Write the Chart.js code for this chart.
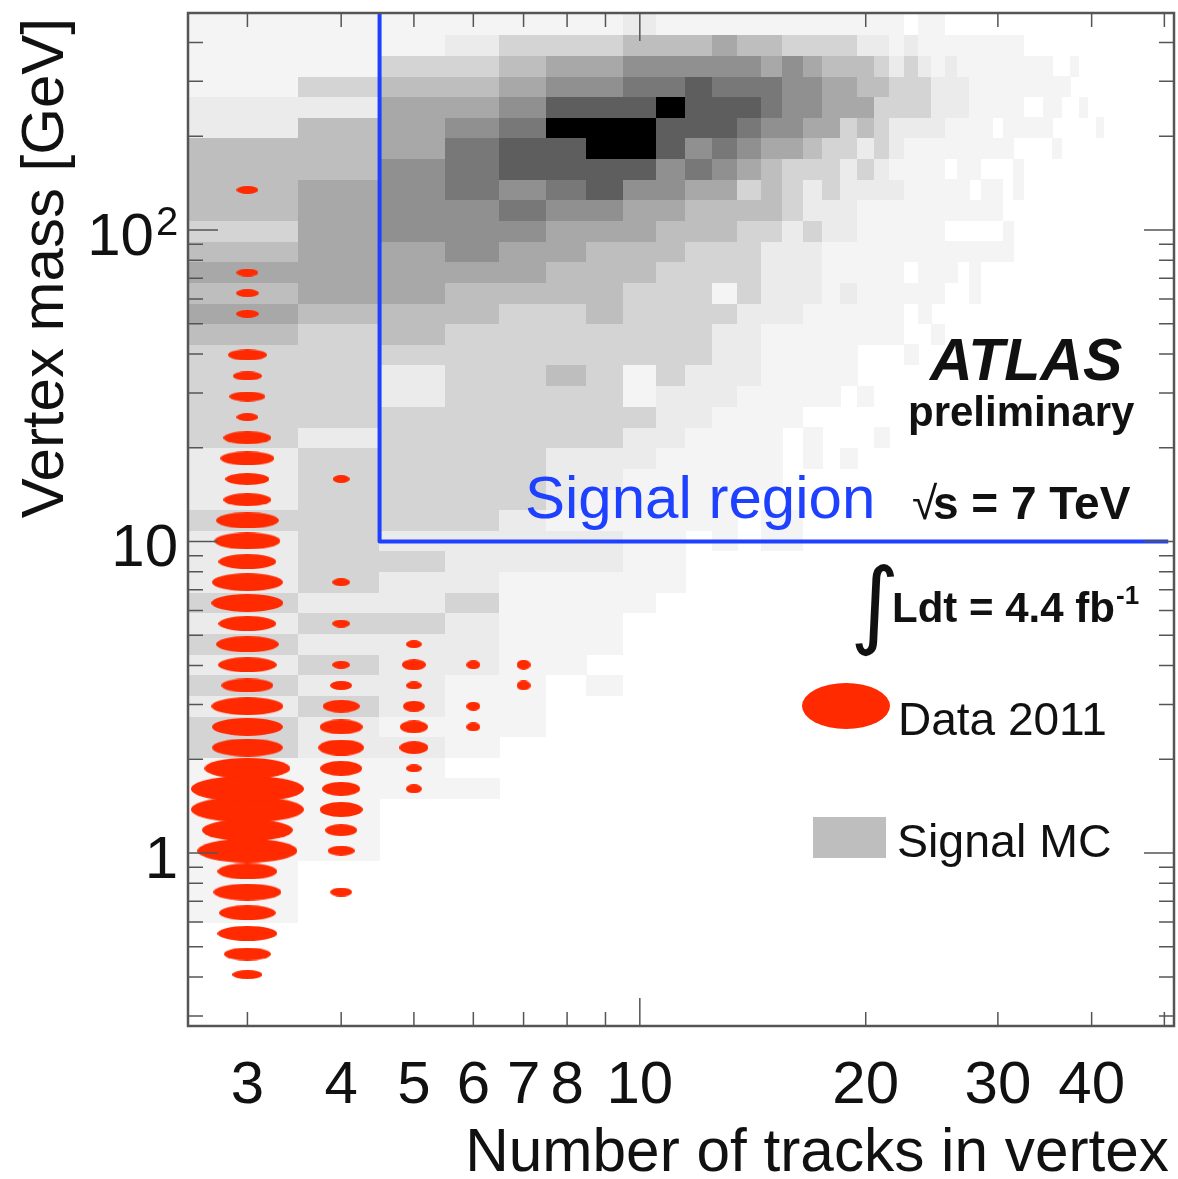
<!DOCTYPE html>
<html>
<head>
<meta charset="utf-8">
<title>Vertex mass vs number of tracks</title>
<script src="https://cdn.jsdelivr.net/npm/chart.js@4/dist/chart.umd.min.js"></script>
<style>
html,body{margin:0;padding:0;background:#fff;}
canvas{display:block;filter:blur(0.7px);}
</style>
</head>
<body>
<canvas id="chart" width="1178" height="1179"></canvas>
<script>
// row centres of the vertex mass histogram, bottom row first [GeV]
const massBins=[0.407,0.474,0.552,0.643,0.749,0.873,1.017,1.184,1.380,1.607,1.87,2.18,2.54,2.96,3.45,4.02,4.68,5.45,6.35,7.40,8.62,
10.04,11.69,13.62,15.87,18.48,21.53,25.08,29.2,34.0,39.7,46.2,53.8,62.7,73.0,85.1,99.1,115.5,134.5,156.7,182.5,212.6,247.7,288.5,336,391.5,456];

// signal MC density level per row (same order as massBins), each row starts at 3 tracks
const mcLevels=[
[],[],[],
[1],[1],[1],
[1,1],[1,1],[1,1],
[1,1,1,1],
[1,1,1],
[3,2,2,1],
[3,2,1,1,1],
[2,3,2,1,1],
[3,2,2,1,1,0,1],
[2,3,2,2,1,1],
[3,2,2,2,1,1,1],
[2,3,3,2,1,1,1],
[3,2,2,3,1,1,1,1],
[2,3,2,2,1,1,1,1,1],
[2,3,3,2,2,2,2,1,1],
[2,3,2,2,2,2,2,1,1,0,1,0,1,1],
[3,3,3,3,2,1,1,1,1,1,1,0,1,1],
[2,3,3,3,3,2,1,1,1,1,1],
[2,3,3,3,3,2,2,1,1,1,1,1,1],
[2,3,3,3,3,2,2,2,1,1,1,1,1,0,1,0,1],
[3,2,3,3,3,3,3,2,2,1,1,1,1,0,1,0,0,0,1],
[3,3,3,3,3,3,3,3,2,2,1,1,1,1],
[3,3,2,3,3,3,3,1,2,2,2,1,1,1,1,1,0,1],
[3,3,2,3,3,4,3,1,3,2,2,2,1,1,1,1,1],
[3,3,3,3,3,3,3,3,3,3,2,2,1,1,1,1,1,0,0,0,1],
[4,3,4,3,3,3,3,3,3,3,2,2,1,1,1,1,1,1,1,1,0,0,1],
[5,4,4,4,3,3,4,3,3,3,3,2,2,2,1,1,1,1,1,1,0,1],
[4,5,5,4,4,4,4,3,3,3,1,3,2,2,2,1,2,1,1,1,1,1,1,0,0,1],
[5,5,5,5,5,4,4,4,3,3,3,3,2,2,2,1,1,1,1,1,0,1,1,1,0,1],
[4,5,5,6,5,5,4,4,4,3,3,3,2,2,2,1,1,1,1,1,1,1,1,1,1,1,1,1,1],
[3,5,6,6,6,5,5,5,4,4,4,3,3,2,3,2,2,1,1,1,1,1,1,0,0,0,0,0,1],
[4,5,6,6,7,6,6,5,5,4,4,4,4,3,2,2,2,1,1,1,1,1,1,1,1,1,1,1],
[4,5,6,7,6,7,8,6,6,5,5,3,4,3,2,3,2,2,2,2,1,1,1,1,1,0,1,1,0,1],
[4,4,6,7,8,8,8,8,6,7,6,5,4,3,3,3,2,3,2,1,1,1,1,0,1,1,0,0,0,1],
[4,4,5,7,8,8,9,9,8,6,7,6,5,5,4,3,3,2,3,2,1,1,1,1,1,1,1,1,1,0,0,0,0,1],
[2,4,5,6,7,9,9,9,8,8,8,7,6,6,5,5,3,4,3,2,2,2,2,1,1,1,1,0,1,1,1,1,1,0,0,0,0,0,1],
[2,2,5,5,6,8,8,8,9,8,8,8,7,6,6,5,5,5,3,3,3,3,2,2,2,1,1,1,1,1,0,0,1,1,0,0,1],
[1,3,4,4,5,6,6,7,7,8,7,7,7,6,6,5,5,4,4,3,3,3,2,2,2,1,1,1,1,1,1,1,1,1,1],
[1,1,3,3,4,5,5,6,6,6,6,6,5,6,5,4,4,4,3,2,3,2,1,2,1,1,1,1,1,1,1,1,1,0,0,1],
[1,1,1,2,3,3,3,4,4,4,5,4,4,3,3,3,3,2,2,1,2,1,1,1,1,1,1,1,1,1],
[1,1,1,1,1,1,1,2,1,1,1,1,1,1,1,1,1,1,1,1,0,1,1]
];

// data 2011 box size per row, one list per track count
const dataTracks=[3,4,5,6,7];
const data3=[27,43,55,52,62,55,91,83,103,103,78,65,65,66,47,54,57,53,66,65,53,60,57,44,40,49,44,20,33,26,36,0,21,21,20,0,0,0,20];
const data4=[0,0,0,0,27,0,33,39,53,47,51,56,53,45,27,22,0,22,0,22,0,0,0,0,21];
const data5=[0,0,0,0,0,0,0,0,0,25,24,44,43,34,24,36,24];
const data6=[0,0,0,0,0,0,0,0,0,0,0,0,25,25,0,25];
const data7=[0,0,0,0,0,0,0,0,0,0,0,0,0,0,29,29];
const dataSizes=[data3,data4,data5,data6,data7];

// signal region boundary
const regionTracks=[4.5,4.5,50.6];
const regionMass=[497,10,10];

// axes
const xTicks=[3,4,5,6,7,8,9,10,20,30,40,50];
const xLabels=[3,4,5,6,7,8,10,20,30,40];
const yTicks=[0.3,0.4,0.5,0.6,0.7,0.8,0.9,1,2,3,4,5,6,7,8,9,10,20,30,40,50,60,70,80,90,100,200,300,400];
const yLabels={1:"1",10:"10",100:"10\u2009\u2009"};

const mcGrays=["#ffffff","#f4f4f4","#ebebeb","#d4d4d4","#bebebe","#a8a8a8","#909090","#787878","#5e5e5e","#000000"];
const dataRed="#ff2a00";
const regionBlue="#1e40ff";
const frameGray="#555555";
const textColor="#111111";
const fontName='"Liberation Sans"';

const mcPoints=[];
mcLevels.forEach((row,r)=>{
row.forEach((level,c)=>{
if(level>0) mcPoints.push({x:Math.sqrt((c+2.5)*(c+3.5)),y:massBins[r],n:c+3,r:r,level:level});
});
});

const dataPoints=[];
dataSizes.forEach((sizes,c)=>{
sizes.forEach((size,r)=>{
if(size>0) dataPoints.push({x:dataTracks[c],y:massBins[r],n:dataTracks[c],r:r,size:size});
});
});

const regionPoints=regionTracks.map((t,i)=>({x:t,y:regionMass[i]}));

// pixel size of one histogram bin, from the chart's scales
function binSize(chart,n,r){
const s=chart.scales;
const up=r<massBins.length-1?Math.sqrt(massBins[r]*massBins[r+1]):massBins[r]*1.079;
const down=r>0?Math.sqrt(massBins[r]*massBins[r-1]):massBins[r]/1.079;
return {
w:s.x.getPixelForValue(n+0.5)-s.x.getPixelForValue(n-0.5),
h:s.y.getPixelForValue(down)-s.y.getPixelForValue(up)
};
}

const sprites=new Map();

function sprite(kind,w,h,color){
const key=kind+w+"x"+h+color;
if(sprites.has(key)) return sprites.get(key);
const c=document.createElement("canvas");
c.width=w;
c.height=h;
const g=c.getContext("2d");
g.fillStyle=color;
if(kind==="box"){
g.fillRect(0,0,w,h);
}else{
g.beginPath();
g.ellipse(w/2,h/2,w/2,h/2,0,0,Math.PI*2);
g.fill();
}
sprites.set(key,c);
return c;
}

function cellStyle(ctx){
const p=ctx.raw;
if(!p) return "rect";
const b=binSize(ctx.chart,p.n,p.r);
return sprite("box",Math.ceil(b.w),Math.ceil(b.h),mcGrays[p.level]);
}

function dataStyle(ctx){
const p=ctx.raw;
if(!p) return "circle";
const b=binSize(ctx.chart,p.n,p.r);
const f=p.size/100;
return sprite("oval",Math.max(2,Math.round(f*b.w)),Math.round(f*b.h*1.1+3),dataRed);
}

function noPadding(scale){
scale.paddingLeft=0;
scale.paddingRight=0;
scale.paddingTop=0;
scale.paddingBottom=0;
}

const framePlugin={
id:"frame",
afterDatasetsDraw(chart){
const g=chart.ctx;
const a=chart.chartArea;
const s=chart.scales;
g.save();
g.strokeStyle=frameGray;
g.lineWidth=1.5;
g.beginPath();
xTicks.forEach(v=>{
const x=s.x.getPixelForValue(v);
const len=v===10?28:14;
g.moveTo(x,a.bottom);g.lineTo(x,a.bottom-len);
g.moveTo(x,a.top);g.lineTo(x,a.top+len);
});
yTicks.forEach(v=>{
const y=s.y.getPixelForValue(v);
const len=(v===1||v===10||v===100)?30:15;
g.moveTo(a.left,y);g.lineTo(a.left+len,y);
g.moveTo(a.right,y);g.lineTo(a.right-len,y);
});
g.stroke();
g.lineWidth=2.5;
g.strokeRect(a.left,a.top,a.right-a.left,a.bottom-a.top);

g.textAlign="left";
g.textBaseline="alphabetic";
g.fillStyle=textColor;
g.font='40px '+fontName;
g.fillText("2",156,235);
g.font='italic bold 59px '+fontName;
g.fillText("ATLAS",930,380);
g.font='bold 42px '+fontName;
g.fillText("preliminary",908,426);
g.font='bold 46px '+fontName;
g.fillText("s = 7 TeV",933,519);
g.font='46px '+fontName;
g.fillText("\u221A",912,519);
g.font='bold 42px '+fontName;
g.fillText("Ldt = 4.4 fb",892,622);
g.font='bold 26px '+fontName;
g.fillText("-1",1116,604);
g.font='95px "DejaVu Sans"';
g.fillText("\u222B",850,636);
g.fillStyle=regionBlue;
g.font='60px '+fontName;
g.fillText("Signal region",525,518);
g.fillStyle=textColor;
g.font='46px '+fontName;
g.fillText("Data 2011",898,735);
g.font='46.5px '+fontName;
g.fillText("Signal MC",897,857);

g.fillStyle=dataRed;
g.beginPath();
g.ellipse(846,706,44,23,0,0,Math.PI*2);
g.fill();
g.fillStyle="#bebebe";
g.fillRect(813,817,73,41);
g.restore();
}
};

new Chart(document.getElementById("chart"),{
type:"scatter",
data:{
datasets:[
{
label:"Signal region",
data:regionPoints,
showLine:true,
borderColor:regionBlue,
borderWidth:4,
pointRadius:0,
borderJoinStyle:"round",
order:0
},
{
label:"Data 2011",
data:dataPoints,
pointStyle:dataStyle,
pointRadius:1,
pointBorderWidth:0,
order:1
},
{
label:"Signal MC",
data:mcPoints,
pointStyle:cellStyle,
pointRadius:1,
pointBorderWidth:0,
order:2
}
]
},
options:{
responsive:false,
animation:false,
events:[],
layout:{padding:{top:13,right:4}},
plugins:{legend:{display:false},tooltip:{enabled:false}},
scales:{
x:{
type:"logarithmic",
min:2.5,
max:51.5,
grid:{display:false},
border:{display:false},
afterBuildTicks(scale){scale.ticks=xTicks.map(v=>({value:v}));},
afterFit(scale){scale.height=153;noPadding(scale);},
ticks:{
autoSkip:false,
maxRotation:0,
padding:16,
color:textColor,
font:{family:fontName,size:60},
callback:v=>xLabels.includes(v)?String(v):""
},
title:{
display:true,
text:"Number of tracks in vertex\u200A",
align:"end",
color:textColor,
font:{family:fontName,size:60.3},
padding:{top:0,bottom:-12}
}
},
y:{
type:"logarithmic",
min:0.2784,
max:497.3,
grid:{display:false},
border:{display:false},
afterBuildTicks(scale){scale.ticks=yTicks.map(v=>({value:v}));},
afterFit(scale){scale.width=188;noPadding(scale);},
ticks:{
autoSkip:false,
padding:2,
labelOffset:8,
color:textColor,
font:{family:fontName,size:60},
callback:v=>yLabels[v]||""
},
title:{
display:true,
text:"Vertex mass [GeV]\u200A",
align:"end",
color:textColor,
font:{family:fontName,size:60},
padding:{top:10,bottom:0}
}
}
}
},
plugins:[framePlugin]
});
</script>
</body>
</html>
